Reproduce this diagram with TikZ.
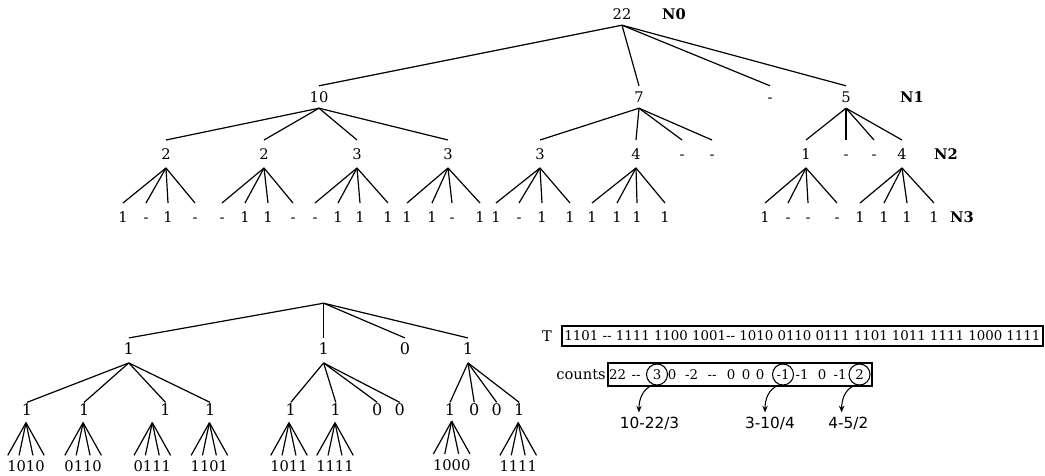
\documentclass[tikz,border=0pt]{standalone}
\usepackage{fontspec}
\setmainfont{DejaVu Serif}
\newfontfamily\labsans{DejaVu Sans}
\usetikzlibrary{arrows.meta}
\begin{document}
\begin{tikzpicture}[x=0.75pt,y=-0.75pt,
  edge/.style={line width=0.9pt},
  tA/.style={font=\fontsize{11pt}{13pt}\selectfont, inner xsep=0pt, inner ysep=4.2pt, text height=8pt, text depth=0pt},
  tB/.style={tA, inner ysep=6.3pt},
  lvl/.style={font=\fontsize{11pt}{13pt}\selectfont\bfseries, inner sep=0pt},
  bA/.style={font=\fontsize{12pt}{14pt}\selectfont, inner sep=0pt, anchor=base, text height=11.85pt, text depth=6.5pt},
  bB/.style={bA, text height=9.5pt, text depth=6pt},
  bL/.style={bA, font=\fontsize{11pt}{13pt}\selectfont, text height=11.9pt, text depth=0pt},
  ci/.style={font=\fontsize{10pt}{12pt}\selectfont, inner sep=0pt, text height=7.3pt, text depth=0pt},
  circ/.style={ci, draw, circle, minimum size=15.75pt, line width=0.8pt},
  sl/.style={font=\labsans\fontsize{11.5pt}{13pt}\selectfont, inner xsep=0pt, inner ysep=3.5pt, text height=8.4pt, text depth=0pt},
  arr/.style={line width=0.8pt, -{Stealth[length=5pt,width=4pt]}},
  boxed/.style={draw, line width=0.8pt, inner sep=0pt}
]
\useasboundingbox (0,0) rectangle (1045,475);

% ---------- top tree ----------
\node[tA] (r) at (622,14) {22};
\node[lvl] (n0) at (674,14) {N0};
\foreach \n/\x/\t in {a/319/10, b/639/7, c/770/-, d/846/5}{
  \node[tA] (\n) at (\x,97) {\t};
  \draw[edge] (r.south) -- (\n.north);
}
\node[lvl] (n1) at (912,97) {N1};
\foreach \p/\n/\x/\t in {a/a1/166/2, a/a2/264/2, a/a3/357/3, a/a4/448/3,
    b/b1/540/3, b/b2/636/4, b/b3/682/-, b/b4/712/-,
    d/d1/806/1, d/d2/846/-, d/d3/874/-, d/d4/902/4}{
  \node[tB] (\n) at (\x,154) {\t};
  \draw[edge] (\p.south) -- (\n.north);
}
\node[lvl] (n2) at (946,154) {N2};
\foreach \p/\i/\x/\t in {a1/1/123/1, a1/2/146/-, a1/3/168/1, a1/4/195/-,
    a2/1/222/-, a2/2/245/1, a2/3/268/1, a2/4/293/-,
    a3/1/315/-, a3/2/338/1, a3/3/360/1, a3/4/388/1,
    a4/1/407/1, a4/2/432/1, a4/3/452/-, a4/4/480/1,
    b1/1/496/1, b1/2/519/-, b1/3/542/1, b1/4/570/1,
    b2/1/592/1, b2/2/617/1, b2/3/637/1, b2/4/665/1,
    d1/1/765/1, d1/2/788/-, d1/3/808/-, d1/4/837/-,
    d4/1/860/1, d4/2/884/1, d4/3/907/1, d4/4/934/1}{
  \node[tB] (\p\i) at (\x,217) {\t};
  \draw[edge] (\p.south) -- (\p\i.north);
}
\node[lvl] (n3) at (962,217) {N3};

% ---------- bottom tree ----------
\coordinate (R) at (323.6,303.2);
\foreach \n/\x/\t in {B1/128.8/1, B2/323.6/1, B3/405/0, B4/468/1}{
  \node[bA] (\n) at (\x,354) {\t};
  \draw[edge] (R) -- (\n.north);
}
\foreach \p/\n/\x/\t in {B1/C1/27/1, B1/C2/84.1/1, B1/C3/165.5/1, B1/C4/210.1/1,
    B2/C5/290.8/1, B2/C6/335.8/1, B2/C7/377.3/0, B2/C8/399.8/0,
    B4/C9/450/1, B4/C10/474.2/0, B4/C11/496.7/0, B4/C12/519.2/1}{
  \node[bB] (\n) at (\x,415.3) {\t};
  \draw[edge] (\p.south) -- (\n.north);
}
\foreach \n/\x/\y/\t in {L1/26/471.5/1010, L2/83.1/471.5/0110, L3/152.3/471.5/0111, L4/209.4/471.5/1101,
    L5/289/471.5/1011, L6/335/471.5/1111, L7/451.7/470/1000, L8/518.2/471.5/1111}{
  \node[bL] (\n) at (\x,\y) {\t};
  \coordinate (\n top) at ([yshift=24.5pt]\n.north);
  \foreach \d in {-13.7pt,-5.2pt,5.2pt,13.7pt}
    \draw[edge] (\n top) -- ([xshift=\d]\n.north);
}

% ---------- T array ----------
\node[font=\fontsize{11pt}{13pt}\selectfont, inner sep=0pt, anchor=base] (tl) at (547,341.4) {T};
\node[boxed, minimum width=360.75pt, minimum height=15pt, font=\fontsize{10pt}{12pt}\selectfont] (tbox) at (802.5,336)
  {1101 -{}- 1111 1100 1001-{}- 1010 0110 0111 1101 1011 1111 1000 1111};

% ---------- counts array ----------
\node[boxed, minimum width=198pt, minimum height=17.25pt] (cbox) at (740,374.5) {};
\node[font=\fontsize{11pt}{13pt}\selectfont, inner sep=0pt, anchor=base east] (cl) at (606,379.8) {counts};
\foreach \n/\x/\t in {k1/617.5/22, k2/636/-{}-, k4/672/0, k5/691.7/-2, k6/712/-{}-,
    k7/731/0, k8/746/0, k9/760/0, k11/802/-1, k12/822/0, k13/840/-1}{
  \node[ci] (\n) at (\x,374.5) {\t};
}
\node[circ] (c3) at (657,374.5) {3};
\node[circ] (cm1) at (783,374.5) {-1};
\node[circ] (c2) at (859.5,374.5) {2};

\node[sl] (l1) at (649.5,423) {10-22/3};
\node[sl] (l2) at (770,423) {3-10/4};
\node[sl] (l3) at (848.3,423) {4-5/2};

\draw[arr] (c3.250) to[out=200,in=90] ([xshift=-7.9pt]l1.north);
\draw[arr] (cm1.250) to[out=200,in=90] ([xshift=-3.75pt]l2.north);
\draw[arr] (c2.250) to[out=200,in=90] ([xshift=-5pt]l3.north);
\end{tikzpicture}
\end{document}
